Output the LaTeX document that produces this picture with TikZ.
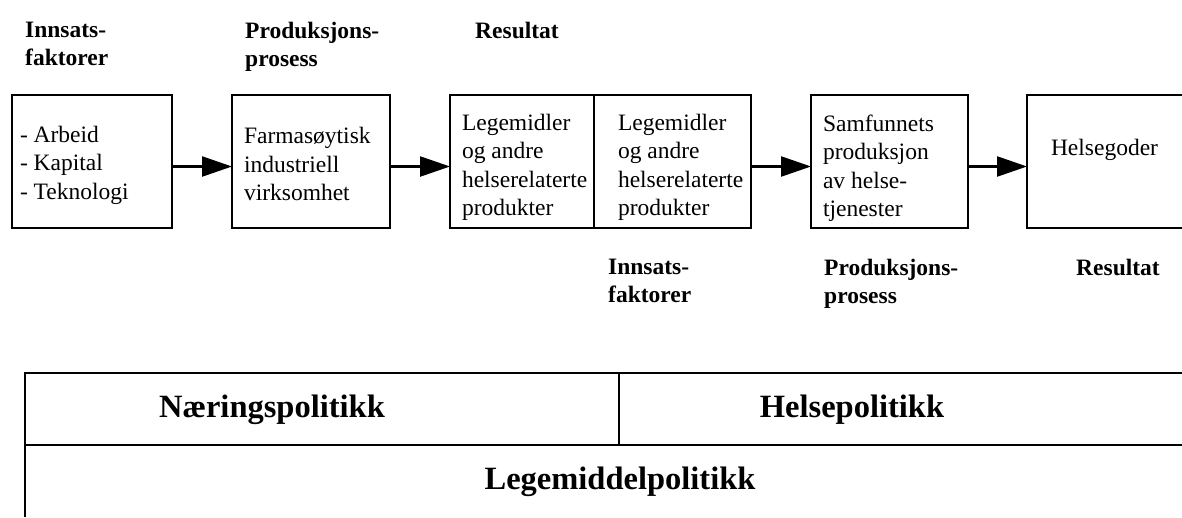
\documentclass[tikz,border=0pt]{standalone}
\usepackage{fontspec}
\setmainfont{Liberation Serif}
\usetikzlibrary{arrows.meta,positioning}

\begin{document}
\begin{tikzpicture}[x=1pt, y=-1pt,
        box/.style={draw, line width=2pt, outer sep=0pt, minimum height=133pt, inner ysep=0pt, align=flush left, font=\fontsize{23.5}{28.5}\selectfont},
        head/.style={anchor=north west, inner sep=0pt, align=flush left, font=\bfseries\fontsize{23.5}{28}\selectfont},
        policy/.style={inner sep=0pt, font=\bfseries\fontsize{32.5}{38}\selectfont},
        arr/.style={-{Triangle[length=30pt,width=20pt]}, line width=2.4pt}]
    \clip (0,0) rectangle (1182,517);
    % kjeden
    \node [box, anchor=north west, text width=144pt, inner xsep=8pt, text height=24pt] (arb) at (12,95) {- Arbeid\\- Kapital\\- Teknologi};
    \node [box, right=60pt of arb, text width=134pt, inner xsep=12pt, text height=22pt] (farm) {Farmasøytisk\\industriell\\virksomhet};
    \node [box, right=60pt of farm, text width=120pt, inner xsep=12pt, text height=28pt] (leg1) {Legemidler\\og andre\\helserelaterte\\produkter};
    \node [box, right=0pt of leg1, text width=109pt, inner xsep=24pt, text height=28pt] (leg2) {Legemidler\\og andre\\helserelaterte\\produkter};
    \node [box, right=60pt of leg2, text width=133pt, inner xsep=12pt, text height=30pt] (samf) {Samfunnets\\produksjon\\av helse-\\tjenester};
    \node [box, right=59pt of samf, text width=109pt, inner xsep=24pt, text depth=29pt] (gode) {Helsegoder};
    \draw [arr] ([yshift=-5pt]arb.east) -- ([yshift=-5pt]farm.west);
    \draw [arr] ([yshift=-5pt]farm.east) -- ([yshift=-5pt]leg1.west);
    \draw [arr] ([yshift=-5pt]leg2.east) -- ([yshift=-5pt]samf.west);
    \draw [arr] ([yshift=-5pt]samf.east) -- ([yshift=-5pt]gode.west);
    % overskrifter
    \node [head] (inn1) at (25,22) {Innsats-\\faktorer};
    \node [head] (prod1) at (245,22) {Produksjons-\\prosess};
    \node [head] (res1) at (475,22) {Resultat};
    \node [head] (inn2) at (608,259) {Innsats-\\faktorer};
    \node [head] (prod2) at (824,259) {Produksjons-\\prosess};
    \node [head] (res2) at (1076,259) {Resultat};
    % politikk
    \draw [line width=2pt] (25,517) -- (25,373) -- (1190,373);
    \draw [line width=2pt] (25,445) -- (1190,445);
    \draw [line width=1.4pt] (619,373) -- (619,445);
    \node [policy] (naer) at (272,410) {Næringspolitikk};
    \node [policy] (helse) at (852,410) {Helsepolitikk};
    \node [policy] (lmp) at (620,482) {Legemiddelpolitikk};
\end{tikzpicture}
\end{document}
